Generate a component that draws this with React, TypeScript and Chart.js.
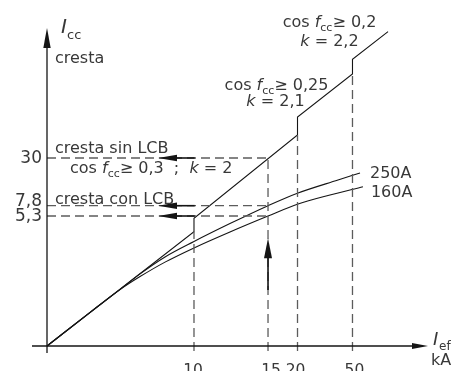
import React, { useEffect, useRef } from 'react';
import { Chart, LinearScale, LineController, LineElement, PointElement } from 'chart.js';

const FONT = '"DejaVu Sans", sans-serif';
const INK = '#151515';
const TEXT = '#383838';
const GUIDE = '#5c5c5c';

// ---- tick labels (kA) ----
const xTicks = [10, 15, 20, 50];
const xTickLabels = ['10', '15', '20', '50'];
const yTicks = [30, 7.8, 5.3];
const yTickLabels = ['30', '7,8', '5,3'];

// ---- schematic (non-uniform) axes: breakpoint values and their share of the axis ----
const xBreakValues = [0, 10, 15, 20, 50];
const xBreakShares = [0, 0.3858, 0.5801, 0.6575, 0.8018];
const yBreakValues = [0, 5.3, 7.8, 30];
const yBreakShares = [0, 0.4088, 0.4412, 0.5912];

// ---- peak current without limiter (stepped k line) ----
const peakIef = [0, 10, 10, 20, 20, 50, 50, 69.4];
const peakIcc = [0, 4.66, 5.21, 40.7, 49.1, 69.1, 75.9, 88.8];

// ---- peak current with limiter LCB ----
const lcb250Ief = [0, 2.93, 4.97, 6.33, 8.03, 10, 12.43, 15, 20.3, 42.1, 54.1];
const lcb250Icc = [0, 1.37, 2.31, 2.94, 3.63, 4.26, 4.99, 7.8, 13.71, 19.76, 23.02];
const lcb160Ief = [0, 2.93, 4.97, 6.33, 8.03, 10, 12.43, 15, 20.3, 37.7, 55.7];
const lcb160Icc = [0, 1.37, 2.3, 2.83, 3.42, 4.0, 4.65, 5.3, 8.59, 12.78, 16.64];

// ---- guide lines ----
const guideTopIcc = [4.66, 30, 40.7, 69.1]; // top of the vertical guides at xTicks
const guideBottomIcc = -0.2;
const guideRightIef = 15; // horizontal guides run from 0 to this Ief
const readArrowTipIef = 7.55;
const readArrowTailIef = 10.05;
const upArrowIef = 15;
const upArrowFromIcc = 2.28;
const upArrowToIcc = 4.39;

const axisBreaks: Record<string, [number[], number[]]> = {
  x: [xBreakValues, xBreakShares],
  y: [yBreakValues, yBreakShares],
};

function interp(v: number, from: number[], to: number[]) {
  let i = 1;
  while (i < from.length - 1 && v > from[i]) i++;
  return to[i - 1] + ((v - from[i - 1]) * (to[i] - to[i - 1])) / (from[i] - from[i - 1]);
}

class PiecewiseScale extends LinearScale {
  static id = 'piecewise';
  static defaults = {};
  getPixelForValue(value: number) {
    const [vals, shares] = axisBreaks[(this as any).id];
    return this.getPixelForDecimal(interp(value, vals, shares));
  }
  getValueForPixel(pixel: number) {
    const [vals, shares] = axisBreaks[(this as any).id];
    return interp(this.getDecimalForPixel(pixel), shares, vals);
  }
}

Chart.register(LineController, LineElement, PointElement, LinearScale, PiecewiseScale as any);

type Part = { t: string; i?: boolean; s?: boolean };

function drawRich(ctx: CanvasRenderingContext2D, parts: Part[], x: number, y: number, size: number, align = 'left') {
  const fontFor = (p: Part) => `${p.i ? 'italic ' : ''}${p.s ? Math.round(size * 0.7) : size}px ${FONT}`;
  let w = 0;
  for (const p of parts) {
    ctx.font = fontFor(p);
    w += ctx.measureText(p.t).width;
  }
  let cx = align === 'left' ? x : align === 'center' ? x - w / 2 : x - w;
  ctx.textAlign = 'left';
  ctx.textBaseline = 'alphabetic';
  for (const p of parts) {
    ctx.font = fontFor(p);
    ctx.fillText(p.t, cx, p.s ? y + size * 0.28 : y);
    cx += ctx.measureText(p.t).width;
  }
}

function head(ctx: CanvasRenderingContext2D, tx: number, ty: number, dx: number, dy: number, len: number, half: number) {
  const bx = tx - dx * len;
  const by = ty - dy * len;
  ctx.beginPath();
  ctx.moveTo(tx, ty);
  ctx.lineTo(bx - dy * half, by + dx * half);
  ctx.lineTo(bx + dy * half, by - dx * half);
  ctx.closePath();
  ctx.fill();
}

function seg(ctx: CanvasRenderingContext2D, x1: number, y1: number, x2: number, y2: number) {
  ctx.beginPath();
  ctx.moveTo(x1, y1);
  ctx.lineTo(x2, y2);
  ctx.stroke();
}

const overlay = {
  id: 'overlay',
  afterDatasetsDraw(chart: any) {
    const { ctx, chartArea: a, scales } = chart;
    const xs = scales.x;
    const ys = scales.y;
    const ox = xs.getPixelForValue(0);
    const oy = ys.getPixelForValue(0);
    ctx.save();
    ctx.strokeStyle = INK;
    ctx.fillStyle = INK;
    ctx.lineWidth = 1.3;
    // axes
    seg(ctx, a.left - 15, oy, a.right - 10, oy);
    head(ctx, a.right, oy, 1, 0, 16, 3);
    seg(ctx, ox, oy + 7, ox, a.top + 12);
    head(ctx, ox, a.top, 0, -1, 20, 3.7);

    // reading arrows (horizontal)
    ctx.lineWidth = 1.6;
    const tip = xs.getPixelForValue(readArrowTipIef);
    const tail = xs.getPixelForValue(readArrowTailIef);
    for (const v of yTicks) {
      const py = ys.getPixelForValue(v);
      seg(ctx, tip + 10, py, tail, py);
      head(ctx, tip, py, -1, 0, 19, 3.2);
    }
    // vertical arrow
    const ux = xs.getPixelForValue(upArrowIef);
    const uy1 = ys.getPixelForValue(upArrowFromIcc);
    const uy2 = ys.getPixelForValue(upArrowToIcc);
    seg(ctx, ux, uy1, ux, uy2 + 10);
    head(ctx, ux, uy2, 0, -1, 20, 4);

    // texts
    ctx.fillStyle = TEXT;
    const S = 16;
    drawRich(ctx, [{ t: 'I', i: true }], ox + 14, a.top + 5, 20);
    drawRich(ctx, [{ t: 'cc' }], ox + 20, a.top + 11, 13);
    drawRich(ctx, [{ t: 'cresta' }], ox + 8, a.top + 35, S);

    // tick labels
    ctx.font = `17px ${FONT}`;
    ctx.textAlign = 'right';
    ctx.textBaseline = 'middle';
    const yLabOff = [1, -4.5, 1];
    yTicks.forEach((v, i) => ctx.fillText(yTickLabels[i], ox - 5, ys.getPixelForValue(v) + yLabOff[i]));
    ctx.font = `15.5px ${FONT}`;
    ctx.textAlign = 'center';
    ctx.textBaseline = 'alphabetic';
    const xLabOff = [-1, 3, -2, 2];
    xTicks.forEach((v, i) => ctx.fillText(xTickLabels[i], xs.getPixelForValue(v) + xLabOff[i], oy + 29));

    // x axis title
    drawRich(ctx, [{ t: 'I', i: true }], a.right + 5, oy - 1, 18);
    drawRich(ctx, [{ t: 'ef' }], a.right + 11, oy + 4, 12);
    drawRich(ctx, [{ t: 'kA' }], a.right + 3, oy + 19, S);

    // annotations
    const p30 = ys.getPixelForValue(30);
    const p78 = ys.getPixelForValue(7.8);
    drawRich(ctx, [{ t: 'cresta sin LCB' }], ox + 8, p30 - 5, S);
    drawRich(
      ctx,
      [{ t: 'cos ' }, { t: 'f', i: true }, { t: 'cc', s: true }, { t: '≥ 0,3  ;  ' }, { t: 'k', i: true }, { t: ' = 2' }],
      ox + 23,
      p30 + 15,
      S
    );
    drawRich(ctx, [{ t: 'cresta con LCB' }], ox + 8, p78 - 2, S);

    const p20 = xs.getPixelForValue(20);
    const p50 = xs.getPixelForValue(50);
    drawRich(ctx, [{ t: 'cos ' }, { t: 'f', i: true }, { t: 'cc', s: true }, { t: '≥ 0,25' }], p20 - 21, 90, S, 'center');
    drawRich(ctx, [{ t: 'k', i: true }, { t: ' = 2,1' }], p20 - 22, 106, S, 'center');
    drawRich(ctx, [{ t: 'cos ' }, { t: 'f', i: true }, { t: 'cc', s: true }, { t: '≥ 0,2' }], p50 - 23, 27, S, 'center');
    drawRich(ctx, [{ t: 'k', i: true }, { t: ' = 2,2' }], p50 - 23, 46, S, 'center');

    const e250x = xs.getPixelForValue(lcb250Ief[lcb250Ief.length - 1]);
    const e250y = ys.getPixelForValue(lcb250Icc[lcb250Icc.length - 1]);
    const e160x = xs.getPixelForValue(lcb160Ief[lcb160Ief.length - 1]);
    const e160y = ys.getPixelForValue(lcb160Icc[lcb160Icc.length - 1]);
    drawRich(ctx, [{ t: '250A' }], e250x + 10, e250y + 5, S);
    drawRich(ctx, [{ t: '160A' }], e160x + 8, e160y + 10, S);
    ctx.restore();
  },
};

const pts = (xv: number[], yv: number[]) => xv.map((x, i) => ({ x, y: yv[i] }));

export default function App() {
  const ref = useRef<HTMLCanvasElement | null>(null);
  useEffect(() => {
    if (!ref.current) return;
    const solid = (data: any, cubic = false) => ({
      data,
      borderColor: INK,
      borderWidth: 1.1,
      pointRadius: 0,
      fill: false,
      clip: false as any,
      cubicInterpolationMode: cubic ? 'monotone' : 'default',
    });
    const dashed = (data: any) => ({
      data,
      borderColor: GUIDE,
      borderWidth: 1.3,
      borderDash: [9, 5],
      pointRadius: 0,
      fill: false,
      clip: false as any,
    });
    const datasets: any[] = [
      ...xTicks.map((v, i) => dashed([{ x: v, y: guideBottomIcc }, { x: v, y: guideTopIcc[i] }])),
      ...yTicks.map((v) => dashed([{ x: 0, y: v }, { x: guideRightIef, y: v }])),
      solid(pts(peakIef, peakIcc)),
      solid(pts(lcb250Ief, lcb250Icc), true),
      solid(pts(lcb160Ief, lcb160Icc), true),
    ];
    const chart = new Chart(ref.current, {
      type: 'line',
      data: { datasets },
      options: {
        animation: false,
        responsive: false,
        parsing: true,
        layout: { padding: { left: 47, right: 29, top: 28, bottom: 25 } },
        scales: {
          x: { type: 'piecewise' as any, display: false, min: -2, max: 100 },
          y: { type: 'piecewise' as any, display: false, min: -2, max: 100 },
        },
        plugins: { legend: { display: false }, tooltip: { enabled: false } } as any,
        events: [],
      },
      plugins: [overlay],
    } as any);
    return () => chart.destroy();
  }, []);
  return (
    <div style={{ position: 'fixed', left: 0, top: 0, width: 457, height: 371, background: '#fff' }}>
      <canvas ref={ref} width={457} height={371} />
    </div>
  );
}
